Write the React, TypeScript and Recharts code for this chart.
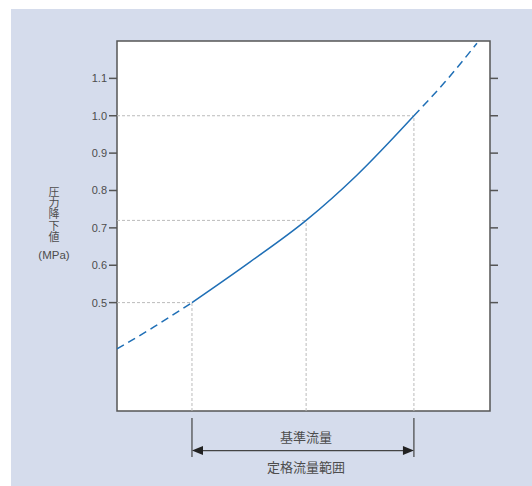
import React from "react";
import { CartesianGrid, Line, LineChart, ReferenceArea, ReferenceDot, ReferenceLine, XAxis, YAxis } from "recharts";

// flow (arbitrary %) vs pressure drop (MPa)
const flowLow = [0, 9.9, 20.1];
const pressLow = [0.376, 0.435, 0.5];
const flowMain = [20.1, 35.7, 50.7, 64.3, 79.6];
const pressMain = [0.5, 0.609, 0.72, 0.841, 1.0];
const flowHigh = [79.6, 87.9, 96.5];
const pressHigh = [1.0, 1.09, 1.194];

const refFlow = [20.1, 50.7, 79.6];
const refPress = [0.5, 0.72, 1.0];
const yTicks = [0.5, 0.6, 0.7, 0.8, 0.9, 1.0, 1.1];
const yLabel = "圧力降下値";
const yUnit = "(MPa)";

const X_DOMAIN: [number, number] = [0, 100];
const Y_DOMAIN: [number, number] = [0.21, 1.2];

const zip = (f: number[], p: number[]) => f.map((x, i) => ({ f: x, p: p[i] }));

const BLUE = "#1f6fb6";
const TEXT = "#4d4d4d";
const FONT = "'Noto Sans CJK JP', 'Liberation Sans', sans-serif";

function Arrow(props: any) {
  const { x1, y1, x2 } = props;
  const len = 11;
  const h = 4.5;
  return (
    <g>
      <line x1={x1 + 4} y1={y1} x2={x2 - 4} y2={y1} stroke="#444" strokeWidth={1.2} />
      <polygon points={`${x1},${y1} ${x1 + len},${y1 - h} ${x1 + len},${y1 + h}`} fill="#222" />
      <polygon points={`${x2},${y1} ${x2 - len},${y1 - h} ${x2 - len},${y1 + h}`} fill="#222" />
    </g>
  );
}

const textShape = (label: string) => (p: any) => (
  <text x={p.cx} y={p.cy} textAnchor="middle" dominantBaseline="central" fontSize={13} fill={TEXT} fontFamily={FONT}>
    {label}
  </text>
);

export default function App() {
  return (
    <div style={{ position: "absolute", left: 0, top: 0, width: 532, height: 486, background: "#fff" }}>
      <div style={{ position: "absolute", left: 11, top: 9, width: 521, height: 477, background: "#d5dcec" }}>
        <LineChart width={521} height={477} margin={{ top: 32, right: 22, bottom: 75, left: 46 }}>
          <CartesianGrid horizontal={false} vertical={false} fill="#fff" />
          <XAxis type="number" dataKey="f" domain={X_DOMAIN} allowDataOverflow hide />
          <YAxis
            yAxisId="l"
            type="number"
            domain={Y_DOMAIN}
            ticks={yTicks}
            allowDataOverflow
            width={60}
            axisLine={false}
            tickSize={8}
            tickLine={{ stroke: "#555", strokeWidth: 1.5 }}
            tick={{ fontSize: 11, fill: TEXT, fontFamily: "'Liberation Sans', sans-serif" }}
            tickFormatter={(v: number) => v.toFixed(1)}
          />
          <YAxis
            yAxisId="r"
            orientation="right"
            type="number"
            domain={Y_DOMAIN}
            ticks={yTicks}
            allowDataOverflow
            width={20}
            axisLine={false}
            tickSize={8}
            tickLine={{ stroke: "#555", strokeWidth: 1.5 }}
            tickFormatter={() => ""}
          />
          {refFlow.map((f, i) => (
            <ReferenceLine
              key={"h" + i}
              yAxisId="l"
              segment={[{ x: X_DOMAIN[0], y: refPress[i] }, { x: f, y: refPress[i] }]}
              stroke="#bbbbbb"
              strokeDasharray="3 2"
            />
          ))}
          {refFlow.map((f, i) => (
            <ReferenceLine
              key={"v" + i}
              yAxisId="l"
              segment={[{ x: f, y: Y_DOMAIN[0] }, { x: f, y: refPress[i] }]}
              stroke="#bbbbbb"
              strokeDasharray="3 2"
            />
          ))}
          <Line yAxisId="l" data={zip(flowLow, pressLow)} dataKey="p" type="monotone" stroke={BLUE} strokeWidth={1.5} strokeDasharray="8 5" dot={false} isAnimationActive={false} />
          <Line yAxisId="l" data={zip(flowMain, pressMain)} dataKey="p" type="monotone" stroke={BLUE} strokeWidth={1.5} dot={false} isAnimationActive={false} />
          <Line yAxisId="l" data={zip(flowHigh, pressHigh)} dataKey="p" type="monotone" stroke={BLUE} strokeWidth={1.5} strokeDasharray="8 5" dot={false} isAnimationActive={false} />
          <ReferenceArea yAxisId="l" x1={X_DOMAIN[0]} x2={X_DOMAIN[1]} y1={Y_DOMAIN[0]} y2={Y_DOMAIN[1]} fill="none" fillOpacity={0} stroke="#555" strokeWidth={1.5} ifOverflow="visible" />
          {/* rated flow range bracket below the plot */}
          {[refFlow[0], refFlow[2]].map((f, i) => (
            <ReferenceLine key={"b" + i} yAxisId="l" segment={[{ x: f, y: 0.191 }, { x: f, y: 0.087 }]} stroke="#444" strokeWidth={1.2} ifOverflow="visible" />
          ))}
          <ReferenceLine yAxisId="l" segment={[{ x: refFlow[0], y: 0.104 }, { x: refFlow[2], y: 0.104 }]} ifOverflow="visible" shape={Arrow} />
          <ReferenceDot yAxisId="l" x={refFlow[1]} y={0.141} ifOverflow="visible" shape={textShape("基準流量")} />
          <ReferenceDot yAxisId="l" x={refFlow[1]} y={0.0615} ifOverflow="visible" shape={textShape("定格流量範囲")} />
        </LineChart>
        <div style={{ position: "absolute", left: 13, top: 177, width: 60, display: "flex", flexDirection: "column", alignItems: "center", fontFamily: FONT, color: TEXT }}>
          <div style={{ writingMode: "vertical-rl", textOrientation: "upright", fontSize: 11, lineHeight: "12px", letterSpacing: "0.3px" }}>{yLabel}</div>
          <div style={{ marginTop: 6, lineHeight: "12px", fontSize: 11.5, fontFamily: "'Liberation Sans', sans-serif" }}>{yUnit}</div>
        </div>
      </div>
    </div>
  );
}
